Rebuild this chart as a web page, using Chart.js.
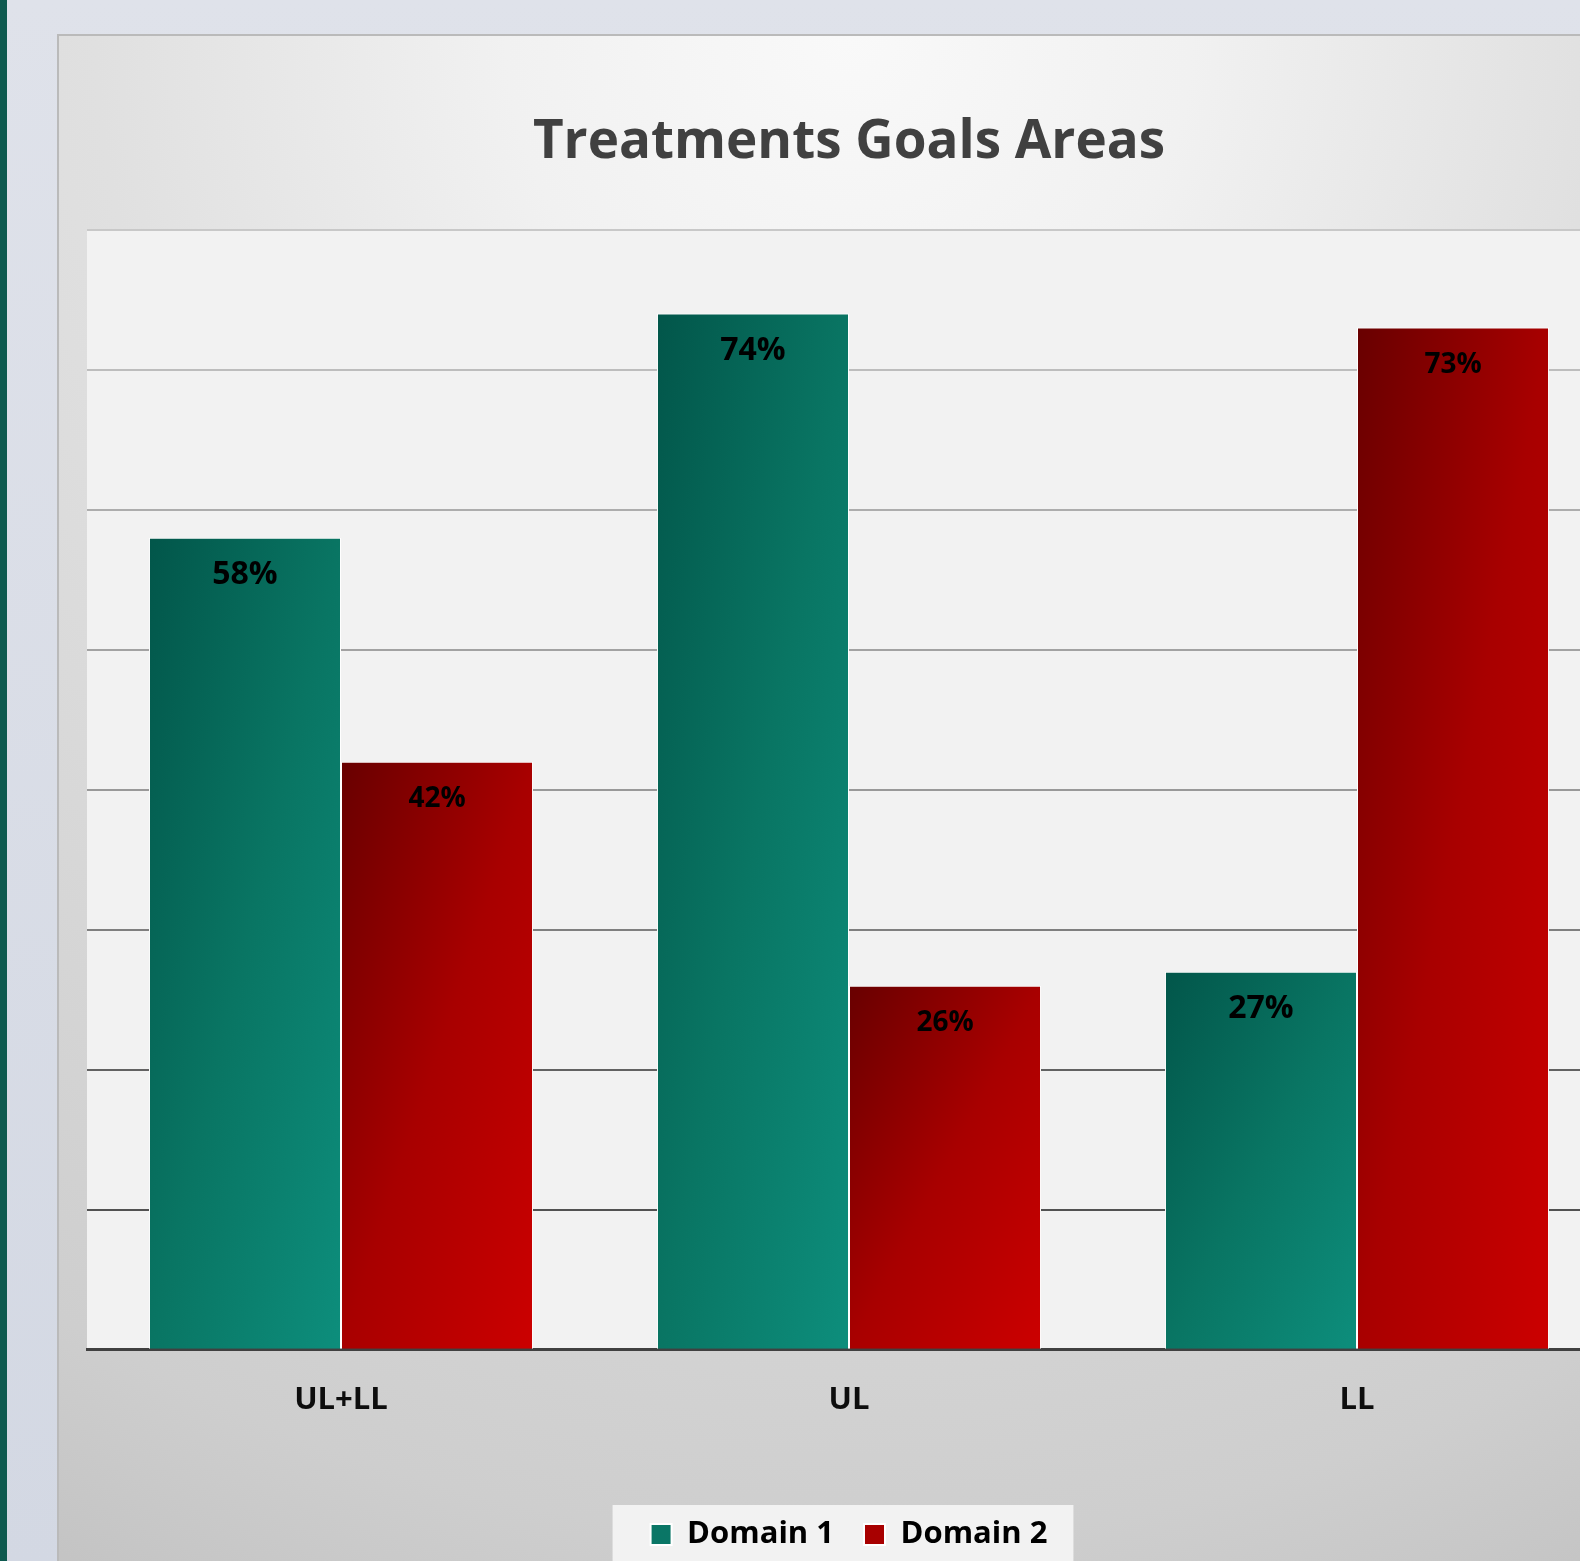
<!DOCTYPE html>
<html>
<head>
<meta charset="utf-8">
<title>Treatments Goals Areas</title>
<script src="https://cdn.jsdelivr.net/npm/chart.js@4.4.1/dist/chart.umd.min.js"></script>
<style>
html, body { margin: 0; padding: 0; width: 1580px; height: 1561px; overflow: hidden; }
body { background: linear-gradient(#dfe2ea, #d3d8e3); position: relative; }
#strip { position: absolute; left: 0; top: 0; width: 7px; height: 1561px; background: #0e5a4f; }
#frame { position: absolute; left: 57px; top: 34px; border-left: 2px solid #bababa; border-top: 2px solid #bababa; }
canvas { display: block; }
</style>
</head>
<body>
<div id="strip"></div>
<div id="frame"><canvas id="goalsChart" width="1600" height="1560" style="width:1600px;height:1560px"></canvas></div>
<script>
const categories = ['UL+LL', 'UL', 'LL'];
const seriesNames = ['Domain 1', 'Domain 2'];
const domain1 = [58, 74, 27];
const domain2 = [42, 26, 73];
const yMax = 80;
const yStep = 10;

Chart.defaults.font.family = '"Open Sans", "DejaVu Sans", sans-serif';

// colours: dark top-left -> light bottom-right, per bar
const greenStops = ['#02564a', '#097563', '#0d8e7c'];
const redStops = ['#680000', '#a80000', '#cc0000'];
const legendFills = ['#0a7666', '#a80000'];
const labelSizes = [32, 28];

const gridShades = { 80: '#c8c8c8', 70: '#bdbdbd', 60: '#adadad', 50: '#a2a2a2', 40: '#999999', 30: '#7f7f7f', 20: '#626262', 10: '#525252' };

function barFill(stops) {
    return c => {
        const el = c.element;
        if (!el || !isFinite(el.x) || !isFinite(el.base) || !isFinite(el.width)) return stops[1];
        const w = el.width, h = el.base - el.y, l = el.x - w / 2, t = el.y;
        const k = 2 * w * h / (w * w + h * h);
        const g = c.chart.ctx.createLinearGradient(l, t, l + h * k, t + w * k);
        g.addColorStop(0, stops[0]);
        g.addColorStop(0.5, stops[1]);
        g.addColorStop(1, stops[2]);
        return g;
    };
}

// chart background, plot area and legend panel
const backdrop = {
    id: 'backdrop',
    beforeDraw(chart) {
        const { ctx, width, height, chartArea } = chart;
        ctx.save();
        const g = ctx.createRadialGradient(790, 0, 0, 790, 0, 1710);
        g.addColorStop(0, '#f9f9f9');
        g.addColorStop(0.2, '#f1f1f1');
        g.addColorStop(0.44, '#e0e0e0');
        g.addColorStop(0.88, '#cecece');
        g.addColorStop(1, '#c4c4c4');
        ctx.fillStyle = g;
        ctx.fillRect(0, 0, width, height);
        ctx.fillStyle = '#f2f2f2';
        ctx.fillRect(chartArea.left, chartArea.top, chartArea.right - chartArea.left, chartArea.bottom - chartArea.top);
        const boxes = chart.legend && chart.legend.legendHitBoxes;
        if (boxes && boxes.length) {
            const first = boxes[0], last = boxes[boxes.length - 1];
            const x0 = first.left - 38;
            ctx.fillRect(x0, first.top - 14, last.left + last.width + 26 - x0, height);
        }
        ctx.restore();
    }
};

// percentage labels inside the top of each bar
const valueLabels = {
    id: 'valueLabels',
    afterDatasetsDraw(chart) {
        const ctx = chart.ctx;
        ctx.save();
        ctx.textAlign = 'center';
        ctx.textBaseline = 'middle';
        ctx.fillStyle = '#000000';
        chart.data.datasets.forEach((ds, i) => {
            ctx.font = 'bold ' + labelSizes[i] + 'px "Open Sans", sans-serif';
            chart.getDatasetMeta(i).data.forEach((bar, j) => {
                ctx.fillText(ds.data[j] + '%', bar.x, bar.y + 37);
            });
        });
        ctx.restore();
    }
};

const chart = new Chart(document.getElementById('goalsChart'), {
    type: 'bar',
    data: {
        labels: categories,
        datasets: [
            { label: seriesNames[0], data: domain1, backgroundColor: barFill(greenStops) },
            { label: seriesNames[1], data: domain2, backgroundColor: barFill(redStops) }
        ]
    },
    options: {
        responsive: false,
        devicePixelRatio: 1,
        animation: false,
        datasets: {
            bar: { barPercentage: 1, categoryPercentage: 0.756, borderColor: '#ffffff', borderWidth: 1 }
        },
        layout: { padding: { left: 28, right: 48, top: 0, bottom: 36 } },
        plugins: {
            title: {
                display: true,
                text: 'Treatments Goals Areas',
                color: '#404040',
                font: { size: 53, weight: 'bold' },
                padding: { top: 75, bottom: 55 }
            },
            legend: {
                position: 'bottom',
                labels: {
                    boxWidth: 21,
                    boxHeight: 21,
                    padding: 30,
                    color: '#000000',
                    font: { size: 31, weight: 'bold' },
                    generateLabels(c) {
                        const items = Chart.defaults.plugins.legend.labels.generateLabels(c);
                        items.forEach((it, i) => {
                            it.fillStyle = legendFills[i];
                            it.strokeStyle = '#ffffff';
                            it.lineWidth = 2;
                        });
                        return items;
                    }
                }
            },
            tooltip: { enabled: false }
        },
        scales: {
            x: {
                grid: { display: false, drawTicks: false },
                border: { display: true, color: '#404040', width: 3 },
                ticks: { color: '#0d0d0d', padding: 32, font: { size: 31, weight: 'bold' } },
                title: { display: true, text: '', font: { size: 10 }, padding: { top: 0, bottom: 26 } }
            },
            y: {
                min: 0,
                max: yMax,
                ticks: { display: false, stepSize: yStep },
                grid: {
                    drawTicks: false,
                    lineWidth: 2,
                    color: c => (c.tick && gridShades[c.tick.value]) || 'rgba(0,0,0,0)'
                },
                border: { display: false }
            }
        }
    },
    plugins: [backdrop, valueLabels]
});

// second pass so the bar gradients can use the laid-out bar geometry
chart.update();
</script>
</body>
</html>
